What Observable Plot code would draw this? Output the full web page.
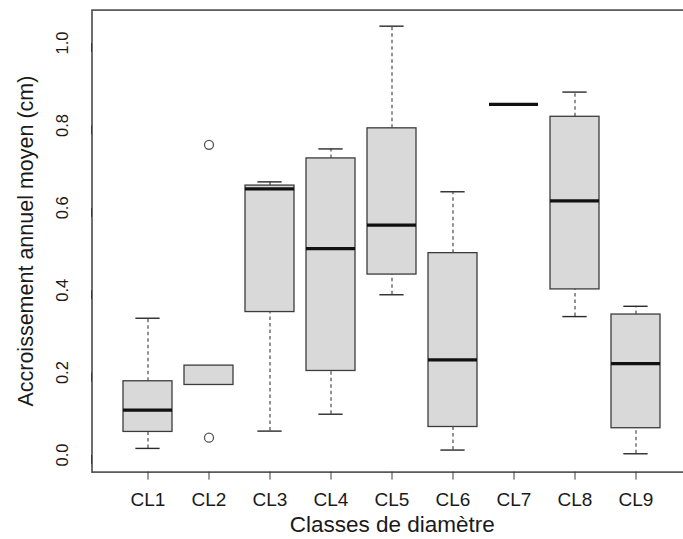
<!DOCTYPE html>
<html>
<head>
<meta charset="utf-8">
<script src="https://cdn.jsdelivr.net/npm/d3@7"></script>
<script src="https://cdn.jsdelivr.net/npm/@observablehq/plot@0.6"></script>
<style>
  html, body { margin: 0; padding: 0; background: #fff; }
</style>
</head>
<body>
<div id="chart"></div>
<script>
// ---- data ----
const classes     = ["CL1", "CL2", "CL3", "CL4", "CL5", "CL6", "CL7", "CL8", "CL9"];
const whiskerLow  = [0.016, null,  0.058, 0.099, 0.389, 0.012, 0.851, 0.336, 0.003];
const quartile1   = [0.056, 0.170, 0.347, 0.204, 0.438, 0.068, 0.851, 0.402, 0.065];
const medians     = [0.109, null,  0.646, 0.501, 0.558, 0.231, 0.851, 0.617, 0.222];
const quartile3   = [0.179, 0.217, 0.654, 0.720, 0.793, 0.490, 0.851, 0.821, 0.341];
const whiskerHigh = [0.332, null,  0.663, 0.743, 1.041, 0.639, 0.851, 0.881, 0.361];
const outlierClass = ["CL2", "CL2"];
const outlierValue = [0.753, 0.042];
const yTicks = [0.0, 0.2, 0.4, 0.6, 0.8, 1.0];
const xTitle = "Classes de diamètre";
const yTitle = "Accroissement annuel moyen (cm)";

// ---- tables built from the arrays ----
const rows = classes.map((c, i) => ({
  cls: c, lo: whiskerLow[i], q1: quartile1[i], med: medians[i], q3: quartile3[i], hi: whiskerHigh[i]
}));
const lowerWhiskers = rows.filter(d => d.lo != null && d.lo < d.q1);
const upperWhiskers = rows.filter(d => d.hi != null && d.hi > d.q3);
const medianRows = rows.filter(d => d.med != null);
const outliers = outlierClass.map((c, i) => ({ cls: c, v: outlierValue[i] }));

const W = 683, H = 539;
const frameLeft = 91.5, frameTop = 9.6, frameBottom = 471.6, frameRight = 692;
const step = (frameRight - frameLeft) / 9.72;
const capInset = step * 0.8 / 4;

const whiskerStyle = { stroke: "#3a3a3a", strokeWidth: 1.1, strokeDasharray: "3.5,3" };
const capStyle = { stroke: "#2a2a2a", strokeWidth: 1.4, inset: capInset };

const chart = Plot.plot({
  width: W,
  height: H,
  marginLeft: frameLeft,
  marginTop: frameTop,
  marginBottom: H - frameBottom,
  marginRight: W - frameRight,
  style: { fontFamily: "'Liberation Sans', Arial, sans-serif", background: "#fff", color: "#1a1a1a", overflow: "hidden" },
  x: { type: "band", domain: classes, paddingInner: 0.2, paddingOuter: 0.46, align: 0.5 },
  y: { domain: [-0.0415, 1.080] },
  marks: [
    Plot.ruleX(lowerWhiskers, { x: "cls", y1: "lo", y2: "q1", ...whiskerStyle }),
    Plot.ruleX(upperWhiskers, { x: "cls", y1: "q3", y2: "hi", ...whiskerStyle }),
    Plot.tickY(lowerWhiskers, { x: "cls", y: "lo", ...capStyle }),
    Plot.tickY(upperWhiskers, { x: "cls", y: "hi", ...capStyle }),
    Plot.barY(rows, { x: "cls", y1: "q1", y2: "q3", fill: "#d9d9d9", stroke: "#3c3c3c", strokeWidth: 1.3 }),
    Plot.tickY(medianRows, { x: "cls", y: "med", stroke: "#111", strokeWidth: 3.2 }),
    Plot.dot(outliers, { x: "cls", y: "v", r: 4.5, stroke: "#555", strokeWidth: 1.3, fill: "none" }),
    Plot.frame({ stroke: "#4a4a4a", strokeWidth: 1.6 }),
    Plot.axisY({ ticks: yTicks, tickFormat: d3.format(".1f"), tickSize: 9, tickPadding: 20.5, rotate: -90,
                 textAnchor: "middle", lineAnchor: "middle", fontSize: 16.5, label: null, stroke: "#3a3a3a" }),
    Plot.axisX({ tickSize: 8, tickPadding: 12, fontSize: 19, label: null, stroke: "#3a3a3a" }),
    Plot.text([yTitle], { frameAnchor: "left", dx: -65.5, rotate: -90, textAnchor: "middle", lineAnchor: "middle",
                          fontSize: 21.5, fill: "#1a1a1a" }),
    Plot.text([xTitle], { frameAnchor: "bottom", dy: 53, textAnchor: "middle", lineAnchor: "middle",
                          fontSize: 22.5, fill: "#1a1a1a" })
  ]
});
document.getElementById("chart").appendChild(chart);
</script>
</body>
</html>
